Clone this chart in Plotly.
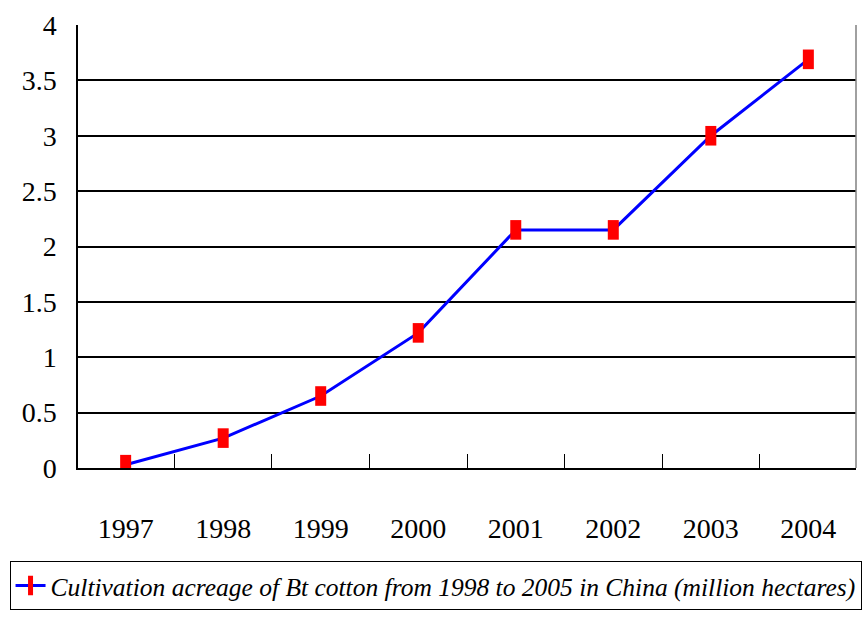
import plotly.graph_objects as go

years = ["1997", "1998", "1999", "2000", "2001", "2002", "2003", "2004"]
acreage = [0.03, 0.27, 0.65, 1.22, 2.15, 2.15, 3.0, 3.69]
series_name = "Cultivation acreage of Bt cotton from 1998 to 2005 in China (million hectares)"
y_ticks = [0, 0.5, 1, 1.5, 2, 2.5, 3, 3.5, 4]
y_labels = ["0", "0.5", "1", "1.5", "2", "2.5", "3", "3.5", "4"]

serif = "Liberation Serif"
tick_font = dict(family=serif, size=28, color="black")

fig = go.Figure()
fig.add_trace(go.Scatter(
    x=years, y=acreage, name=series_name,
    mode="lines+markers",
    line=dict(color="#0000ff", width=3),
    marker=dict(symbol="line-ns", size=14, color="#ff0000",
                line=dict(color="#ff0000", width=11)),
))

fig.update_layout(
    width=866, height=624,
    font=dict(family=serif, color="black"),
    margin=dict(l=78, r=10, t=18, b=156),
    paper_bgcolor="white", plot_bgcolor="white",
    showlegend=True,
    legend=dict(
        x=-0.088, y=-0.211, xanchor="left", yanchor="top",
        bordercolor="black", borderwidth=1, bgcolor="white",
        font=dict(family=serif, size=25.5, color="black", style="italic"),
        itemwidth=30,
    ),
)
fig.update_xaxes(
    type="category", tickson="boundaries",
    ticks="inside", ticklen=14, tickwidth=1, tickcolor="black",
    showline=True, linecolor="black", linewidth=2,
    showgrid=False, tickfont=tick_font, ticklabelstandoff=34,
)
fig.update_yaxes(
    range=[0, 4], tickvals=y_ticks, ticktext=y_labels,
    ticks="inside", ticklen=8, tickcolor="black",
    showline=True, linecolor="black", linewidth=1.5,
    showgrid=True, gridcolor="black", gridwidth=1.5,
    zeroline=False, tickfont=tick_font, ticklabelstandoff=14,
)
# right edge of the plot frame
fig.add_shape(type="line", xref="paper", yref="paper", x0=1, x1=1, y0=0, y1=1,
              line=dict(color="#808080", width=1.5))

fig.write_html("out.html")
